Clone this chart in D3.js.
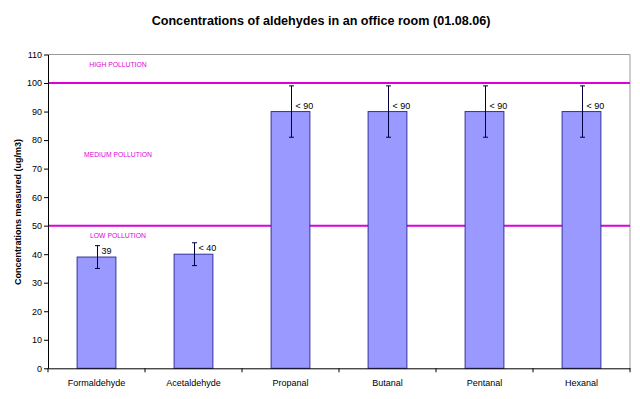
<!DOCTYPE html>
<html><head><meta charset="utf-8">
<script src="https://cdn.jsdelivr.net/npm/d3@7"></script>
<style>body{margin:0;background:#fff;} svg{display:block;font-family:"Liberation Sans",Arial,sans-serif;}</style>
</head><body>
<svg id="c" width="640" height="399"></svg>
<script>
const categories = ["Formaldehyde","Acetaldehyde","Propanal","Butanal","Pentanal","Hexanal"];
const values = [39, 40, 90, 90, 90, 90];
const errors = [4, 4, 9, 9, 9, 9];
const labels = ["39", "< 40", "< 90", "< 90", "< 90", "< 90"];
const yTicks = [0,10,20,30,40,50,60,70,80,90,100,110];
const thresholds = [100, 50];
const zoneLabels = [{t:"HIGH POLLUTION", v:106.3}, {t:"MEDIUM POLLUTION", v:75}, {t:"LOW POLLUTION", v:46.5}];

const svg = d3.select("#c");
const L = 48, R = 630, T = 54.5, B = 368.3;
const x = d3.scaleBand().domain(categories).range([L, R]).paddingInner(0).paddingOuter(0);
const y = d3.scaleLinear().domain([0, 110]).range([B, T]);
const bw = x.bandwidth() * 0.4;

// plot border (top/right)
svg.append("path").attr("d", `M${L},${T}H${R}V${B}`).attr("fill","none").attr("stroke","#999").attr("stroke-width",1);

// threshold lines
svg.selectAll(".th").data(thresholds).join("line")
  .attr("x1", L).attr("x2", R).attr("y1", d=>y(d)).attr("y2", d=>y(d))
  .attr("stroke", "#dd00dd").attr("stroke-width", 2);

svg.selectAll(".zl").data(zoneLabels).join("text")
  .attr("x", 118).attr("y", d=>y(d.v)).attr("dy","0.35em")
  .attr("text-anchor","middle").attr("font-size", 6.8).attr("fill","#dd00dd").text(d=>d.t);

// bars
svg.selectAll(".bar").data(categories).join("rect")
  .attr("x", d=>x(d)+x.bandwidth()/2 - bw/2)
  .attr("y", (d,i)=>y(values[i]))
  .attr("width", bw).attr("height", (d,i)=>B - y(values[i]))
  .attr("fill", "#9999ff").attr("stroke", "#333399").attr("stroke-width", 1);

// error bars
const eg = svg.selectAll(".err").data(categories).join("g")
  .attr("transform", d=>`translate(${Math.round(x(d)+x.bandwidth()/2)+0.5},0)`);
eg.append("line").attr("y1",(d,i)=>y(values[i]+errors[i])).attr("y2",(d,i)=>y(values[i]-errors[i])).attr("stroke","#000040");
eg.append("line").attr("x1",-2.5).attr("x2",2.5).attr("y1",(d,i)=>y(values[i]+errors[i])).attr("y2",(d,i)=>y(values[i]+errors[i])).attr("stroke","#000040");
eg.append("line").attr("x1",-2.5).attr("x2",2.5).attr("y1",(d,i)=>y(values[i]-errors[i])).attr("y2",(d,i)=>y(values[i]-errors[i])).attr("stroke","#000040");

// value labels
svg.selectAll(".vl").data(categories).join("text")
  .attr("x", d=>x(d)+x.bandwidth()/2 + 5)
  .attr("y", (d,i)=>y(values[i]) - 6).attr("dy","0.35em")
  .attr("font-size", 9).attr("fill","#000").text((d,i)=>labels[i]);

// axes
const ya = svg.append("g").attr("transform",`translate(${L},0)`)
  .call(d3.axisLeft(y).tickValues(yTicks).tickSize(4).tickSizeOuter(0));
ya.select(".domain").attr("stroke","#000");
ya.selectAll(".tick line").attr("stroke","#000");
ya.selectAll("text").attr("font-size",9).attr("fill","#000").attr("font-family","Liberation Sans, Arial, sans-serif").attr("x",-6);

const xa = svg.append("g").attr("transform",`translate(0,${B})`)
  .call(d3.axisBottom(x).tickSize(0).tickSizeOuter(0));
xa.select(".domain").attr("stroke","#000");
xa.selectAll("text").attr("font-size",9).attr("fill","#000").attr("font-family","Liberation Sans, Arial, sans-serif").attr("dy","0").attr("y",18);
// category separator ticks
const bounds = categories.map(c=>x(c)).concat([R]);
svg.selectAll(".xt").data(bounds).join("line")
  .attr("x1",d=>d).attr("x2",d=>d).attr("y1",B).attr("y2",B+4).attr("stroke","#000");

// title
svg.append("text").attr("x",321).attr("y",24.5).attr("text-anchor","middle")
  .attr("font-size",12.6).attr("font-weight","bold").text("Concentrations of aldehydes in an office room (01.08.06)");

// y label
svg.append("text").attr("transform","translate(21,212) rotate(-90)").attr("text-anchor","middle")
  .attr("font-size",9).attr("font-weight","bold").text("Concentrations measured (ug/m3)");
</script>
</body></html>
